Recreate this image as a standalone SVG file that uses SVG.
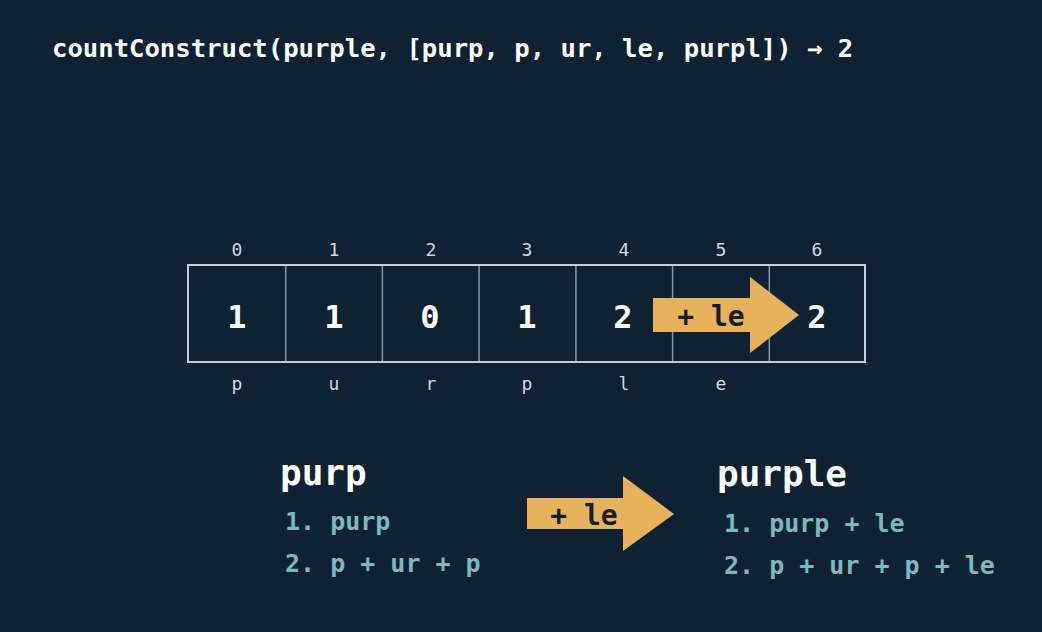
<svg xmlns="http://www.w3.org/2000/svg" width="1042" height="632" viewBox="0 0 1042 632">
<style>
.m{font-family:"DejaVu Sans Mono","Liberation Mono",monospace;font-weight:bold}
.w{fill:#ffffff}
.idx{fill:#d3d9de;font-size:18px;font-weight:normal;text-anchor:middle}
.num{fill:#ffffff;font-size:32px;text-anchor:middle}
.t{fill:#7cb9bf;font-size:25px}
.h{fill:#ffffff;font-size:36px}
.arr{fill:#e8b15c}
.at{fill:#13202b;font-size:28px;text-anchor:middle}
.cl{stroke:#8796a2;stroke-width:1.5}
</style>
<rect width="1042" height="632" fill="#0f2233"/>
<g id="title"><text class="m w" x="52" y="57" font-size="25.6">countConstruct(purple, [purp, p, ur, le, purpl]) → 2</text></g>
<g id="table">
<rect x="188" y="265" width="677" height="97" fill="none" stroke="#c6ced5" stroke-width="2"/>
<line class="cl" x1="285.7" y1="266" x2="285.7" y2="361"/>
<line class="cl" x1="382.4" y1="266" x2="382.4" y2="361"/>
<line class="cl" x1="479.1" y1="266" x2="479.1" y2="361"/>
<line class="cl" x1="575.9" y1="266" x2="575.9" y2="361"/>
<line class="cl" x1="672.6" y1="266" x2="672.6" y2="361"/>
<line class="cl" x1="769.3" y1="266" x2="769.3" y2="361"/>
<text class="m idx" x="237" y="256">0</text>
<text class="m idx" x="334" y="256">1</text>
<text class="m idx" x="431" y="256">2</text>
<text class="m idx" x="527" y="256">3</text>
<text class="m idx" x="624" y="256">4</text>
<text class="m idx" x="721" y="256">5</text>
<text class="m idx" x="817" y="256">6</text>
<text class="m num" x="237" y="328">1</text>
<text class="m num" x="334" y="328">1</text>
<text class="m num" x="430" y="328">0</text>
<text class="m num" x="527" y="328">1</text>
<text class="m num" x="623" y="328">2</text>
<text class="m num" x="817" y="328">2</text>
<text class="m idx" x="237" y="390">p</text>
<text class="m idx" x="334" y="390">u</text>
<text class="m idx" x="431" y="390">r</text>
<text class="m idx" x="527" y="390">p</text>
<text class="m idx" x="624" y="390">l</text>
<text class="m idx" x="721" y="390">e</text>
</g>
<g id="arrow-table">
<polygon class="arr" points="653,298 750,298 750,277 799,315 750,353 750,332 653,332"/>
<text class="m at" x="711" y="326">+ le</text>
</g>
<g id="left">
<text class="m h" x="280" y="485">purp</text>
<text class="m t" x="285" y="530">1. purp</text>
<text class="m t" x="285" y="572">2. p + ur + p</text>
</g>
<g id="arrow-bottom">
<polygon class="arr" points="527,498 623,498 623,476 674,514 623,551 623,529 527,529"/>
<text class="m at" x="584" y="525">+ le</text>
</g>
<g id="right">
<text class="m h" x="717" y="486">purple</text>
<text class="m t" x="724" y="532">1. purp + le</text>
<text class="m t" x="724" y="574">2. p + ur + p + le</text>
</g>
</svg>
